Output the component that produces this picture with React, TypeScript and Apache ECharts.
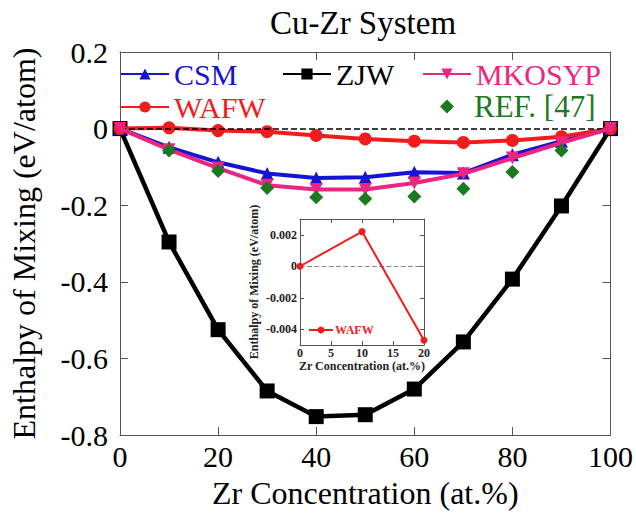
import React, { useEffect, useRef } from 'react';
import * as echarts from 'echarts';

const concentration = [0, 10, 20, 30, 40, 50, 60, 70, 80, 90, 100];
const csm = [0, -0.049, -0.088, -0.117, -0.129, -0.127, -0.114, -0.116, -0.068, -0.033, 0];
const zjw = [0, -0.296, -0.525, -0.685, -0.752, -0.747, -0.680, -0.557, -0.393, -0.202, 0];
const mkosyp = [0, -0.055, -0.103, -0.148, -0.159, -0.159, -0.142, -0.118, -0.077, -0.037, 0];
const wafw = [0, 0.002, -0.005, -0.008, -0.018, -0.027, -0.033, -0.036, -0.031, -0.021, 0];
const refConcentration = [10, 20, 30, 40, 50, 60, 70, 80, 90];
const ref47 = [-0.057, -0.111, -0.155, -0.179, -0.183, -0.177, -0.157, -0.113, -0.057];
const insetConcentration = [0, 10, 20];
const insetWafw = [0, 0.0022, -0.0047];
const insetYTicks = [-0.004, -0.002, 0, 0.002];

const FONT = "'Liberation Serif', 'Times New Roman', Times, serif";
const BLUE = '#1414d2';
const PINK = '#ec2580';
const RED = '#f21c1c';
const GREEN = '#1b7a1f';

const pairs = (xs: number[], ys: number[]) => xs.map((x, i) => [x, ys[i]]);

export default function App() {
  const ref = useRef<HTMLDivElement>(null);
  useEffect(() => {
    if (!ref.current) return;
    const chart = echarts.init(ref.current, undefined, { renderer: 'svg' });
    const axisLine = { onZero: false, lineStyle: { color: '#555', width: 1 } };
    const mainTick = { inside: true, length: 8, lineStyle: { color: '#555' } };
    const insetTick = { inside: true, length: 4, lineStyle: { color: '#555' } };
    const legendBase = (name: string, color: string, left: number, top: number, w = 48, padLeft = 0, fs = 30) => ({
      data: [name],
      left,
      top,
      orient: 'horizontal',
      itemWidth: w,
      itemHeight: 14,
      padding: 0,
      textStyle: { color, fontFamily: FONT, fontSize: fs, padding: [0, 0, 0, padLeft] },
      selectedMode: false,
    });
    const option: any = {
      animation: false,
      backgroundColor: '#fff',
      title: {
        text: 'Cu-Zr System',
        left: 358,
        top: 1,
        textAlign: 'center',
        textStyle: { fontFamily: FONT, fontWeight: 'normal', fontSize: 33, color: '#000' },
      },
      legend: [
        legendBase('CSM', BLUE, 120, 59),
        legendBase('ZJW', '#000', 282, 59),
        legendBase('MKOSYP', PINK, 422, 59),
        legendBase('WAFW', RED, 120, 92),
        legendBase('REF. [47]', GREEN, 440, 91, 14, 15, 31),
      ],
      grid: [
        { left: 116, top: 52, width: 498, height: 391, show: false },
        { left: 300, top: 219, width: 124, height: 126, show: true, backgroundColor: '#fff', borderWidth: 0 },
      ],
      xAxis: [
        {
          type: 'value', gridIndex: 0, min: 0, max: 100, interval: 20,
          axisLine, axisTick: mainTick, splitLine: { show: false },
          axisLabel: { fontFamily: FONT, fontSize: 30, color: '#000', margin: 6 },
          name: 'Zr Concentration (at.%)', nameLocation: 'middle', nameGap: 42,
          nameTextStyle: { fontFamily: FONT, fontSize: 32, color: '#000' },
        },
        {
          type: 'value', gridIndex: 0, min: 0, max: 100, interval: 20, position: 'top',
          axisLine, axisTick: mainTick, splitLine: { show: false }, axisLabel: { show: false },
        },
        {
          type: 'value', gridIndex: 1, min: 0, max: 20, interval: 5,
          axisLine, axisTick: insetTick, splitLine: { show: false },
          axisLabel: { fontFamily: FONT, fontSize: 12, fontWeight: 'bold', color: '#222', margin: 2 },
          name: 'Zr Concentration (at.%)', nameLocation: 'middle', nameGap: 14,
          nameTextStyle: { fontFamily: FONT, fontSize: 12, fontWeight: 'bold', color: '#222' },
        },
        {
          type: 'value', gridIndex: 1, min: 0, max: 20, interval: 5, position: 'top',
          axisLine, axisTick: insetTick, splitLine: { show: false }, axisLabel: { show: false },
        },
      ],
      yAxis: [
        {
          type: 'value', gridIndex: 0, min: -0.8, max: 0.2, interval: 0.2,
          axisLine: { show: true, ...axisLine }, axisTick: mainTick, splitLine: { show: false },
          axisLabel: {
            fontFamily: FONT, fontSize: 30, color: '#000', margin: 12,
            formatter: (v: number) => (Math.abs(v) < 1e-9 ? '0' : v.toFixed(1)),
          },
          name: 'Enthalpy of Mixing (eV/atom)', nameLocation: 'middle', nameGap: 80, nameRotate: 90,
          nameTextStyle: { fontFamily: FONT, fontSize: 32, color: '#000' },
        },
        {
          type: 'value', gridIndex: 0, min: -0.8, max: 0.2, interval: 0.2, position: 'right',
          axisLine: { show: true, ...axisLine }, axisTick: mainTick, splitLine: { show: false },
          axisLabel: { show: false },
        },
        {
          type: 'value', gridIndex: 1, min: -0.005, max: 0.003,
          axisLine: { show: true, ...axisLine },
          axisTick: { ...insetTick, customValues: insetYTicks },
          splitLine: { show: false },
          axisLabel: {
            fontFamily: FONT, fontSize: 12, fontWeight: 'bold', color: '#222', margin: 3,
            customValues: insetYTicks,
            formatter: (v: number) => (Math.abs(v) < 1e-9 ? '0' : v.toFixed(3)),
          },
          name: 'Enthalpy of Mixing (eV/atom)', nameLocation: 'middle', nameGap: 40, nameRotate: 90,
          nameTextStyle: { fontFamily: FONT, fontSize: 12, fontWeight: 'bold', color: '#222' },
        },
        {
          type: 'value', gridIndex: 1, min: -0.005, max: 0.003, position: 'right',
          axisLine: { show: true, ...axisLine },
          axisTick: { ...insetTick, customValues: insetYTicks },
          splitLine: { show: false }, axisLabel: { show: false },
        },
      ],
      series: [
        {
          name: 'ZJW', type: 'line', xAxisIndex: 0, yAxisIndex: 0, z: 2,
          data: pairs(concentration, zjw),
          symbol: 'rect', symbolSize: 15,
          lineStyle: { color: '#000', width: 4.5 }, itemStyle: { color: '#000' },
          markLine: {
            silent: true, symbol: 'none', label: { show: false },
            lineStyle: { color: '#000', type: 'dashed', width: 1.5 },
            data: [{ yAxis: 0 }],
          },
        },
        {
          name: 'CSM', type: 'line', xAxisIndex: 0, yAxisIndex: 0, z: 3,
          data: pairs(concentration, csm),
          symbol: 'triangle', symbolSize: 13,
          lineStyle: { color: BLUE, width: 4 }, itemStyle: { color: BLUE },
        },
        {
          name: 'WAFW', type: 'line', xAxisIndex: 0, yAxisIndex: 0, z: 4,
          data: pairs(concentration, wafw),
          symbol: 'circle', symbolSize: 13,
          lineStyle: { color: RED, width: 4 }, itemStyle: { color: RED },
        },
        {
          name: 'MKOSYP', type: 'line', xAxisIndex: 0, yAxisIndex: 0, z: 5,
          data: pairs(concentration, mkosyp),
          symbol: 'triangle', symbolRotate: 180, symbolSize: 13,
          lineStyle: { color: PINK, width: 4 }, itemStyle: { color: PINK },
        },
        {
          name: 'REF. [47]', type: 'scatter', xAxisIndex: 0, yAxisIndex: 0, z: 6,
          data: pairs(refConcentration, ref47),
          symbol: 'diamond', symbolSize: 14,
          itemStyle: { color: GREEN, opacity: 1 },
        },
        {
          name: 'WAFW inset', type: 'line', xAxisIndex: 2, yAxisIndex: 2, z: 10,
          data: pairs(insetConcentration, insetWafw),
          symbol: 'circle', symbolSize: 7,
          lineStyle: { color: RED, width: 2 }, itemStyle: { color: RED },
          markLine: {
            silent: true, symbol: 'none', label: { show: false },
            lineStyle: { color: '#888', type: 'dashed', width: 1.2 },
            data: [{ yAxis: 0 }],
          },
        },
      ],
      graphic: [
        { type: 'line', z: 100, shape: { x1: 309, y1: 330, x2: 333, y2: 330 }, style: { stroke: RED, lineWidth: 2 } },
        { type: 'circle', z: 100, shape: { cx: 321, cy: 330, r: 3.5 }, style: { fill: RED } },
        {
          type: 'text', z: 100, x: 335, y: 330,
          style: { text: 'WAFW', fill: RED, fontFamily: FONT, fontWeight: 'bold', fontSize: 12, verticalAlign: 'middle' },
        },
      ],
    };
    chart.setOption(option);
    return () => chart.dispose();
  }, []);
  return <div ref={ref} style={{ position: 'fixed', left: 0, top: 0, width: 636, height: 514 }} />;
}
